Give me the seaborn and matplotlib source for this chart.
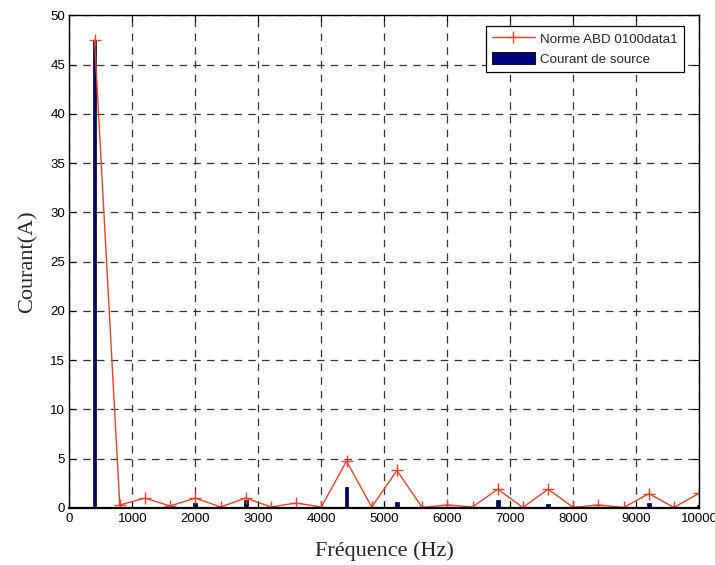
import matplotlib
matplotlib.use("Agg")
import matplotlib.pyplot as plt
import seaborn as sns
import numpy as np
import pandas as pd
from matplotlib.lines import Line2D
from matplotlib.patches import Patch

# Harmonic frequencies (Hz)
freq = [400, 800, 1200, 1600, 2000, 2400, 2800, 3200, 3600, 4000,
        4400, 4800, 5200, 5600, 6000, 6400, 6800, 7200, 7600, 8000,
        8400, 8800, 9200, 9600, 10000]

# Norme ABD 0100 limits (A)
norme = [47.5, 0.3, 1.0, 0.2, 1.0, 0.1, 1.0, 0.1, 0.5, 0.1,
         4.75, 0.1, 3.8, 0.05, 0.3, 0.1, 1.9, 0.05, 1.9, 0.05,
         0.3, 0.05, 1.45, 0.05, 1.5]

# Courant de source (A)
courant = [47.5, 0.05, 0.05, 0.05, 0.5, 0.05, 0.8, 0.05, 0.05, 0.05,
           2.1, 0.05, 0.65, 0.05, 0.05, 0.05, 0.8, 0.05, 0.4, 0.05,
           0.05, 0.05, 0.5, 0.05, 0.3]

label_line = "Norme ABD 0100data1"
label_bar = "Courant de source"

sns.set_style("ticks")
plt.rcParams['font.family'] = ['Liberation Sans', 'DejaVu Sans']

df = pd.DataFrame({"freq": freq, "norme": norme, "courant": courant})

fig = plt.figure(figsize=(7.15, 5.65), dpi=100)
ax = fig.add_axes([0.097, 0.101, 0.881, 0.872])

red = "#e8432a"
navy = "#00007f"

sns.barplot(data=df, x="freq", y="courant", native_scale=True, width=0.15,
            color=navy, saturation=1, edgecolor="black", linewidth=0.5, ax=ax)
sns.lineplot(data=df, x="freq", y="norme", color=red, linewidth=1,
             marker="+", markersize=9, markeredgecolor=red,
             markeredgewidth=1, ax=ax)

ax.set_xlim(0, 10000)
ax.set_ylim(0, 50)
ax.set_xticks(np.arange(0, 10001, 1000))
ax.set_yticks(np.arange(0, 51, 5))

ax.grid(True, color="#333333", linestyle=(0, (6, 5)), linewidth=0.9)
ax.set_axisbelow(True)
ax.tick_params(direction="in", top=True, right=True, labelsize=9.5,
               length=4, width=0.8, colors="black", pad=3)
ax.tick_params(axis="x", pad=4)
for s in ax.spines.values():
    s.set_visible(True)
    s.set_color("black")
    s.set_linewidth(1)
ax.spines["bottom"].set_linewidth(1.6)

ax.set_xlabel("Fréquence (Hz)", fontsize=16, family="Liberation Serif", labelpad=11)
ax.set_ylabel("Courant(A)", fontsize=16, family="Liberation Serif", labelpad=9)

handles = [Line2D([0], [0], color=red, linewidth=1, marker="+",
                  markersize=9, markeredgewidth=1),
           Patch(facecolor=navy, edgecolor="black", linewidth=0.6)]
leg = ax.legend(handles, [label_line, label_bar], loc="upper right",
                fontsize=9.6, frameon=True, fancybox=False, framealpha=1,
                edgecolor="black", borderaxespad=0, handlelength=3.2,
                handleheight=1.05, labelspacing=0.45, handletextpad=0.4,
                borderpad=0.45, bbox_to_anchor=(0.975, 0.978))
leg.get_frame().set_linewidth(0.9)

fig.savefig("out.png", dpi=100)
